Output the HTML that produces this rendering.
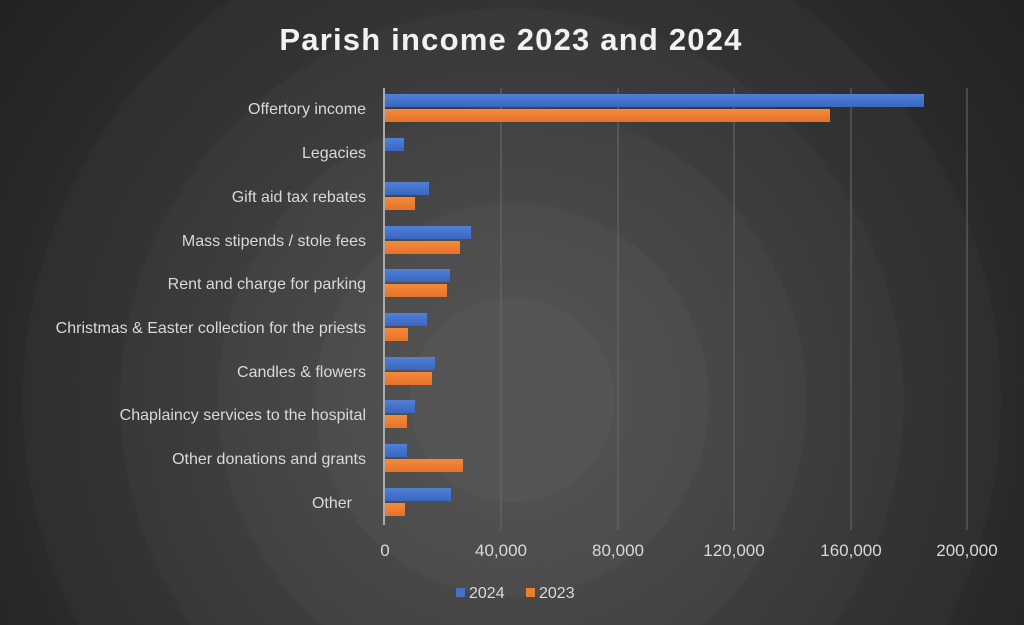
<!DOCTYPE html>
<html><head><style>
body{margin:0;width:1024px;height:625px;overflow:hidden;background:#2a2a2a}
</style></head><body>
<svg width="1024" height="625" xmlns="http://www.w3.org/2000/svg" font-family="Liberation Sans, sans-serif" style="display:block">
<defs>
<radialGradient id="bg" cx="512" cy="400" r="650" gradientUnits="userSpaceOnUse">
<stop offset="0" stop-color="#555"/><stop offset="0.155" stop-color="#555"/>
<stop offset="0.16" stop-color="#505050"/><stop offset="0.3" stop-color="#4c4c4c"/>
<stop offset="0.305" stop-color="#474747"/><stop offset="0.45" stop-color="#424242"/>
<stop offset="0.455" stop-color="#3d3d3d"/><stop offset="0.6" stop-color="#383838"/>
<stop offset="0.605" stop-color="#333"/><stop offset="0.75" stop-color="#2f2f2f"/>
<stop offset="0.755" stop-color="#2a2a2a"/><stop offset="1" stop-color="#222"/>
</radialGradient>
<linearGradient id="b" x1="0" y1="0" x2="0" y2="1"><stop offset="0" stop-color="#5080d8"/><stop offset="1" stop-color="#3a66c0"/></linearGradient>
<linearGradient id="o" x1="0" y1="0" x2="0" y2="1"><stop offset="0" stop-color="#f58a3a"/><stop offset="1" stop-color="#e5722a"/></linearGradient>
</defs>
<rect width="1024" height="625" fill="url(#bg)"/>
<text x="511" y="50" text-anchor="middle" fill="#f2f2f2" font-size="31" font-weight="bold" letter-spacing="1.2">Parish income 2023 and 2024</text>
<g stroke="#6a6a6a" stroke-width="1">
<line x1="501" y1="88" x2="501" y2="530"/><line x1="618" y1="88" x2="618" y2="530"/>
<line x1="734" y1="88" x2="734" y2="530"/><line x1="851" y1="88" x2="851" y2="530"/>
<line x1="967" y1="88" x2="967" y2="530"/>
</g>
<line x1="384" y1="88" x2="384" y2="525" stroke="#aaa" stroke-width="2"/>
<g fill="#d9d9d9" font-size="16" text-anchor="end">
<text x="366" y="114">Offertory income</text>
<text x="366" y="158">Legacies</text>
<text x="366" y="202">Gift aid tax rebates</text>
<text x="366" y="246">Mass stipends / stole fees</text>
<text x="366" y="289">Rent and charge for parking</text>
<text x="366" y="333">Christmas &amp; Easter collection for the priests</text>
<text x="366" y="377">Candles &amp; flowers</text>
<text x="366" y="420">Chaplaincy services to the hospital</text>
<text x="366" y="464">Other donations and grants</text>
<text x="352" y="508">Other</text>
</g>
<g fill="#d9d9d9" font-size="17" text-anchor="middle">
<text x="385" y="556">0</text><text x="501" y="556">40,000</text><text x="618" y="556">80,000</text>
<text x="734" y="556">120,000</text><text x="851" y="556">160,000</text><text x="967" y="556">200,000</text>
</g>
<g fill="url(#b)">
<rect x="385" y="94" width="539" height="13"/>
<rect x="385" y="138" width="19" height="13"/>
<rect x="385" y="182" width="44" height="13"/>
<rect x="385" y="226" width="86" height="13"/>
<rect x="385" y="269" width="65" height="13"/>
<rect x="385" y="313" width="42" height="13"/>
<rect x="385" y="357" width="50" height="13"/>
<rect x="385" y="400" width="30" height="13"/>
<rect x="385" y="444" width="22" height="13"/>
<rect x="385" y="488" width="66" height="13"/>
</g>
<g fill="url(#o)">
<rect x="385" y="109" width="445" height="13"/>
<rect x="385" y="197" width="30" height="13"/>
<rect x="385" y="241" width="75" height="13"/>
<rect x="385" y="284" width="62" height="13"/>
<rect x="385" y="328" width="23" height="13"/>
<rect x="385" y="372" width="47" height="13"/>
<rect x="385" y="415" width="22" height="13"/>
<rect x="385" y="459" width="78" height="13"/>
<rect x="385" y="503" width="20" height="13"/>
</g>
<rect x="456" y="588" width="9" height="9" fill="#4472c4"/>
<text x="469" y="598" fill="#d9d9d9" font-size="16">2024</text>
<rect x="526" y="588" width="9" height="9" fill="#ed7d31"/>
<text x="539" y="598" fill="#d9d9d9" font-size="16">2023</text>
</svg>
</body></html>
